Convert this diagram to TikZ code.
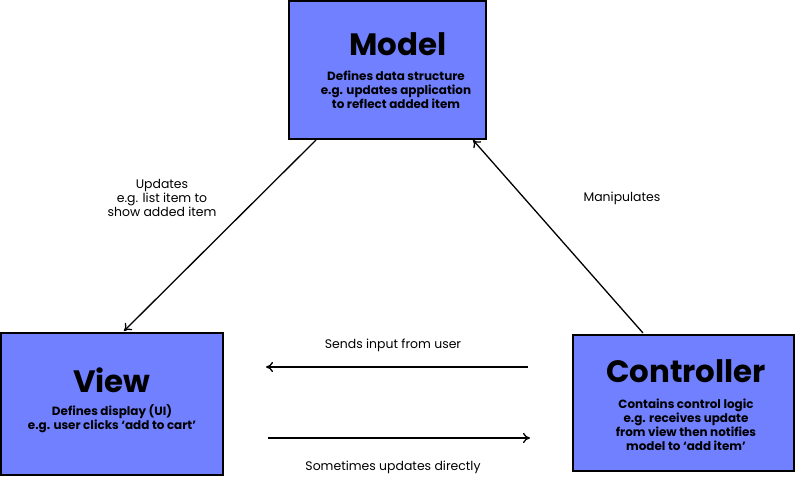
\documentclass[tikz,border=0pt]{standalone}
\usepackage{fontspec}
\setmainfont{Poppins}
\usetikzlibrary{arrows.meta}
\definecolor{boxblue}{HTML}{7080FF}
\tikzset{
  box/.style={draw=black,line width=2bp,fill=boxblue},
  title/.style={font=\fontsize{31}{34}\selectfont\bfseries},
  body/.style={align=center,font=\fontsize{12}{14}\selectfont\bfseries},
  lab/.style={align=center,font=\fontsize{12.5}{14}\selectfont},
  conn/.style={line width=1.3bp,-{To[length=7bp,width=10bp]}}
}
\begin{document}
\begin{tikzpicture}[x=1bp,y=-1bp]
\useasboundingbox (0,0) rectangle (795,493);
\node[box,minimum width=197bp,minimum height=138bp] (model) at (387,70) {};
\node[box,minimum width=222bp,minimum height=141bp] (view) at (112,404) {};
\node[box,minimum width=221bp,minimum height=136bp] (ctrl) at (683,403) {};
\node[title] (mt) at (398,44) {Model};
\node[body] (mb) at (396,90) {Defines data structure\\e.g. updates application\\to reflect added item};
\node[title] (vt) at (112,380) {View};
\node[body] (vb) at (112,419) {Defines display (UI)\\e.g. user clicks ‘add to cart’};
\node[title] (ct) at (686,371) {Controller};
\node[body] (cb) at (686,425) {Contains control logic\\e.g. receives update\\from view then notifies\\model to ‘add item’};
\coordinate (a1) at (316,140); \coordinate (a2) at (124,331);
\coordinate (b1) at (643,333); \coordinate (b2) at (473,140);
\coordinate (c1) at (528,367); \coordinate (c2) at (266,367);
\coordinate (d1) at (268,438); \coordinate (d2) at (530,438);
\draw[conn] (a1) -- (a2);
\draw[conn] (b1) -- (b2);
\draw[conn] (c1) -- (c2);
\draw[conn] (d1) -- (d2);
\node[lab] (l1) at (162,198) {Updates\\e.g. list item to\\show added item};
\node[lab] (l2) at (622,198) {Manipulates};
\node[lab] (l3) at (393,345) {Sends input from user};
\node[lab] (l4) at (393,467) {Sometimes updates directly};
\end{tikzpicture}
\end{document}
